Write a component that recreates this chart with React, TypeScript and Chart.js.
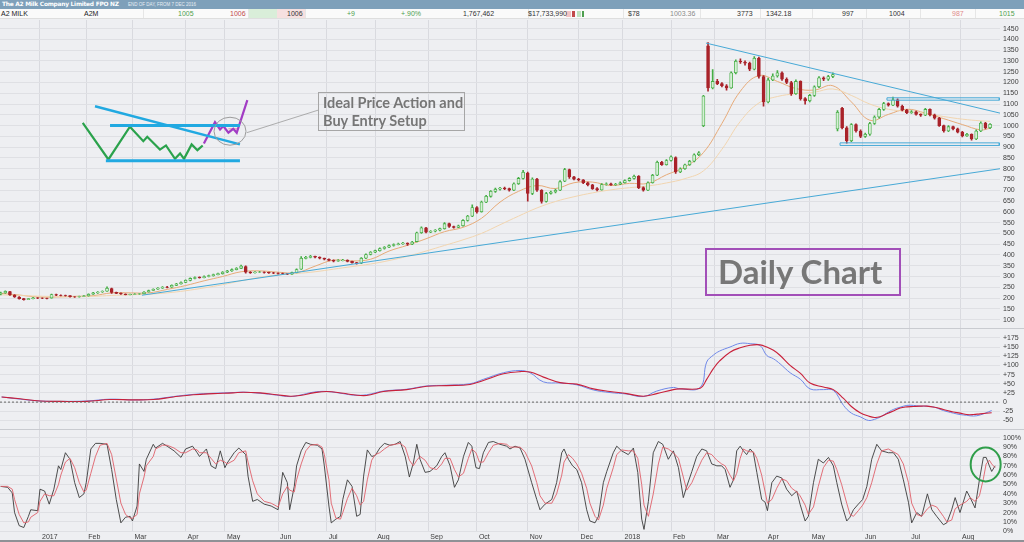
import React, { useEffect, useRef } from "react";
import { Chart, registerables } from "chart.js";

Chart.register(...registerables);

// ---------------- DATA ----------------
// x axis = trading-day number counted from 7 Dec 2016
const monthStartDays = [17, 37, 57, 80, 97, 120, 141, 162, 185, 206, 228, 250, 269, 290, 309, 331, 350, 373, 393, 415];
const monthLabels = ["2017", "Feb", "Mar", "Apr", "May", "Jun", "Jul", "Aug", "Sep", "Oct", "Nov", "Dec", "2018", "Feb", "Mar", "Apr", "May", "Jun", "Jul", "Aug"];

const priceTicks = [100, 150, 200, 250, 300, 350, 400, 450, 500, 550, 600, 650, 700, 750, 800, 850, 900, 950, 1000, 1050, 1100, 1150, 1200, 1250, 1300, 1350, 1400, 1450];
const macdTicks = [-50, -25, 0, 25, 50, 75, 100, 125, 150, 175];
const stochTicks = [0, 10, 20, 30, 40, 50, 60, 70, 80, 90, 100];

// candles, one every second trading day
const opens = [
  218, 224, 230, 214, 205, 197, 193, 197, 201, 200,
  199, 200, 216, 213, 212, 211, 206, 205, 207, 210,
  218, 224, 228, 232, 244, 226, 222, 219, 216, 217,
  219, 220, 228, 235, 241, 246, 251, 250, 259, 266,
  272, 282, 291, 297, 294, 300, 304, 309, 313, 320,
  326, 332, 338, 346, 320, 318, 320, 321, 319, 317,
  316, 314, 313, 311, 318, 334, 384, 389, 393, 390,
  385, 380, 375, 371, 374, 376, 370, 364, 362, 385,
  402, 413, 420, 430, 436, 444, 448, 452, 455, 450,
  462, 503, 526, 506, 510, 515, 522, 545, 532, 528,
  535, 560, 580, 620, 600, 645, 672, 695, 705, 710,
  708, 700, 730, 755, 780, 685, 752, 700, 648, 685,
  692, 700, 742, 796, 762, 752, 748, 735, 725, 708,
  702, 727, 730, 726, 728, 735, 745, 755, 765, 712,
  700, 735, 770, 830, 819, 838, 852, 785, 800, 818,
  835, 865, 1000, 1370, 1175, 1205, 1195, 1185, 1175, 1245,
  1298, 1295, 1290, 1262, 1312, 1228, 1110, 1212, 1230, 1245,
  1215, 1200, 1148, 1205, 1125, 1115, 1140, 1180, 1222, 1215,
  1228, 985, 1080, 990, 930, 1005, 975, 950, 960, 1010,
  1040, 1075, 1102, 1095, 1120, 1090, 1072, 1060, 1064, 1052,
  1048, 1075, 1050, 1035, 1000, 975, 995, 985, 970, 952,
  960, 938, 975, 1012, 990,
];
const highs = [
  228, 234, 231, 216, 207, 199, 199, 203, 202, 201,
  200, 219, 218, 215, 214, 212, 207, 209, 212, 220,
  226, 230, 233, 252, 246, 228, 224, 220, 219, 221,
  222, 230, 237, 243, 248, 253, 254, 261, 268, 275,
  285, 294, 298, 299, 303, 306, 311, 316, 323, 329,
  335, 341, 353, 349, 323, 323, 324, 322, 320, 319,
  317, 316, 314, 321, 336, 392, 394, 398, 395, 391,
  386, 382, 377, 378, 380, 377, 371, 366, 388, 405,
  416, 423, 433, 439, 447, 451, 455, 458, 456, 463,
  506, 530, 528, 513, 518, 525, 550, 548, 534, 538,
  564, 584, 632, 624, 650, 676, 699, 710, 714, 715,
  710, 734, 760, 792, 784, 758, 755, 703, 690, 696,
  705, 745, 802, 798, 765, 755, 750, 738, 728, 712,
  731, 734, 733, 732, 739, 749, 759, 770, 768, 716,
  739, 774, 835, 834, 842, 860, 855, 804, 822, 839,
  869, 880, 1140, 1385, 1260, 1215, 1200, 1190, 1250, 1305,
  1310, 1300, 1295, 1320, 1318, 1232, 1220, 1240, 1255, 1250,
  1222, 1205, 1212, 1208, 1130, 1145, 1185, 1228, 1226, 1233,
  1245, 1070, 1085, 995, 1010, 1008, 980, 965, 1015, 1045,
  1080, 1108, 1106, 1132, 1124, 1095, 1076, 1070, 1067, 1055,
  1080, 1078, 1053, 1038, 1003, 1000, 998, 988, 973, 964,
  962, 980, 1018, 1015, 1010,
];
const lows = [
  215, 222, 212, 203, 195, 190, 192, 196, 197, 197,
  196, 199, 211, 210, 209, 204, 203, 204, 206, 209,
  217, 222, 226, 231, 222, 220, 217, 214, 214, 216,
  217, 219, 227, 234, 240, 245, 247, 249, 258, 264,
  271, 280, 289, 292, 293, 298, 302, 307, 311, 318,
  324, 330, 336, 316, 314, 316, 318, 316, 314, 313,
  311, 310, 308, 310, 317, 333, 381, 386, 386, 382,
  377, 372, 368, 370, 372, 368, 362, 357, 360, 383,
  400, 411, 418, 427, 434, 441, 446, 449, 444, 448,
  460, 500, 502, 503, 507, 512, 520, 528, 524, 526,
  533, 557, 578, 594, 598, 642, 668, 690, 700, 703,
  696, 698, 727, 752, 650, 680, 695, 640, 645, 682,
  688, 698, 740, 755, 748, 744, 731, 720, 704, 697,
  700, 724, 722, 723, 726, 733, 742, 752, 708, 696,
  698, 733, 768, 815, 816, 835, 778, 782, 797, 815,
  832, 861, 995, 1160, 1170, 1190, 1180, 1165, 1172, 1240,
  1288, 1280, 1255, 1258, 1220, 1090, 1105, 1208, 1225, 1210,
  1195, 1140, 1145, 1118, 1100, 1110, 1136, 1176, 1208, 1210,
  1222, 975, 985, 918, 926, 970, 944, 945, 955, 1005,
  1035, 1070, 1090, 1092, 1086, 1068, 1055, 1057, 1048, 1043,
  1046, 1045, 1030, 996, 970, 972, 980, 966, 948, 950,
  932, 935, 972, 985, 986,
];
const closes = [
  224, 231, 215, 205, 197, 193, 197, 201, 200, 199,
  198, 216, 213, 212, 211, 206, 205, 207, 210, 218,
  224, 228, 231, 245, 226, 222, 219, 216, 217, 219,
  220, 228, 235, 241, 246, 251, 249, 259, 266, 272,
  282, 291, 295, 294, 300, 304, 309, 313, 320, 326,
  332, 338, 348, 320, 318, 320, 321, 319, 317, 316,
  314, 313, 311, 318, 332, 384, 389, 393, 390, 385,
  380, 375, 371, 374, 376, 370, 364, 360, 385, 402,
  413, 420, 430, 436, 444, 448, 452, 455, 450, 460,
  503, 526, 506, 510, 515, 522, 545, 532, 528, 535,
  560, 580, 620, 600, 645, 672, 695, 705, 710, 708,
  700, 730, 755, 784, 685, 752, 700, 648, 685, 692,
  700, 740, 796, 762, 752, 748, 735, 725, 708, 702,
  727, 730, 726, 728, 735, 745, 755, 765, 712, 700,
  735, 770, 830, 819, 838, 855, 785, 800, 818, 835,
  865, 874, 1137, 1175, 1205, 1195, 1185, 1175, 1245, 1298,
  1295, 1290, 1262, 1312, 1228, 1110, 1212, 1230, 1245, 1215,
  1200, 1148, 1205, 1125, 1115, 1140, 1180, 1222, 1215, 1228,
  1237, 1062, 990, 930, 1005, 975, 950, 960, 1010, 1040,
  1075, 1102, 1095, 1120, 1090, 1072, 1060, 1064, 1052, 1048,
  1075, 1050, 1035, 1000, 975, 995, 985, 970, 952, 960,
  938, 975, 1012, 990, 1006,
];

// moving averages
const maDays = [0, 8, 16, 24, 32, 40, 48, 56, 64, 72, 80, 88, 96, 104, 112, 120, 128, 136, 144, 152, 160, 168, 176, 184, 192, 200, 208, 216, 224, 232, 240, 248, 256, 264, 272, 280, 288, 296, 304, 312, 320, 328, 336, 344, 352, 360, 368, 376, 384, 392, 400, 408, 416, 424, 428];
const fastMA = [222, 214, 205, 205, 208, 211, 224, 224, 224, 240, 258, 280, 300, 322, 326, 320, 318, 348, 376, 372, 380, 418, 445, 475, 508, 528, 570, 645, 695, 722, 708, 735, 738, 722, 732, 732, 772, 808, 875, 1010, 1160, 1232, 1205, 1172, 1165, 1185, 1110, 1025, 1052, 1076, 1058, 1032, 1005, 980, 988];
const slowMA = [215, 212, 209, 207, 206, 208, 212, 215, 218, 224, 234, 247, 262, 280, 296, 308, 314, 322, 334, 346, 358, 374, 394, 418, 444, 470, 500, 540, 580, 618, 648, 670, 688, 702, 712, 720, 734, 754, 790, 890, 1020, 1105, 1135, 1148, 1155, 1170, 1140, 1100, 1076, 1066, 1056, 1042, 1030, 1022, 1020];

// drawn trend lines and zones on the price panel
const downTrendDays = [305.1, 432.3];
const downTrendPrices = [1383, 1058];
const upTrendDays = [61.1, 432.3];
const upTrendPrices = [213, 800];
const resistanceZone = { from: 383.4, to: 432, top: 1129, bottom: 1118 };
const supportZone = { from: 363.1, to: 432, top: 920, bottom: 908 };

// the hand-drawn "ideal price action" sketch
const sketchTrendDays = [40.8, 103.5];
const sketchTrendPrices = [1090, 913];
const sketchTopDays = [47.3, 103.5];
const sketchTopPrice = 1001;
const sketchBottomDays = [45.5, 103.5];
const sketchBottomPrice = 837;
const sketchGreenDays = [35.5, 46.6, 55.9, 61.7, 63.4, 68.9, 71.5, 75.4, 77.6, 79.3, 82.6, 85.1, 87.4];
const sketchGreenPrices = [1013, 843, 995, 928, 948, 889, 908, 846, 871, 846, 913, 886, 908];
const sketchPurpleDays = [87.9, 92.7, 94.9, 96.3, 98.5, 100.6, 102.1, 103.5, 106.7];
const sketchPurplePrices = [917, 1016, 982, 998, 967, 985, 967, 1013, 1118];
const sketchMarkDays = [98.5, 102.8];
const sketchMarkPrice = 985;
const sketchRing = { day: 99.2, price: 974 };
const calloutDays = [106.4, 137.4];
const calloutPrices = [967, 1072];

// MACD panel
const macdDays = [
  0.4, 8.4, 17, 25.7, 37.2, 47.3, 57.4, 66, 74.7, 83.3, 92, 100.6, 105, 112.2, 119.4, 125.2, 129.5, 135.2, 141, 148.2,
  152.6, 158.3, 165.5, 175.6, 184.3, 192.9, 203, 208.8, 217.5, 224.7, 229, 234.8, 242, 249.2, 256.4, 263.6, 270.8, 278, 283.8, 291,
  293.9, 302.6, 305.4, 308.3, 311, 315.5, 319.9, 324.2, 328.5, 331.4, 334.3, 337.2, 341.5, 346, 350.1, 355.9, 360.2, 364.6, 368,
  371.8, 375.4, 378, 380.4, 383.3, 386.2, 389.1, 392, 394.8, 397.7, 400.6, 404, 407.8, 412.1, 415, 417.9, 420.8, 423.7, 428.7,
];
const macdLine = [
  14, 8, 3, 2, 3, 8, 6, 8, 15, 21, 24, 26, 27, 24, 19, 15, 19, 27, 29, 23,
  19, 20, 30, 35, 44, 46, 50, 62, 80, 86, 80, 55, 52, 47, 33, 26, 22, 15, 30, 40,
  36, 40, 109, 128, 139, 150, 160, 159, 154, 127, 118, 104, 80, 62, 36, 34, 32, -9, -30,
  -40, -50, -47, -41, -30, -20, -14, -9, -9, -11, -11, -14, -23, -30, -34, -36, -38, -35, -23,
];
const signalLine = [
  14, 9, 3, 2, 2, 7, 6, 7, 14, 20, 23, 25, 27, 25, 20, 16, 18, 25, 29, 24,
  20, 18, 29, 34, 43, 45, 48, 59, 77, 83, 82, 68, 53, 49, 36, 29, 23, 16, 23, 34,
  36, 38, 62, 91, 112, 136, 148, 155, 156, 150, 141, 127, 100, 78, 52, 41, 34, 10, -12,
  -29, -38, -42, -40, -32, -24, -16, -13, -12, -11, -11, -14, -20, -27, -30, -34, -34, -32, -29,
];

// Stochastic panel
const stochDays = [
  0, 3, 5, 6, 8, 10, 12, 13, 16, 17, 19, 21, 23, 25, 26, 28, 30, 32, 34, 36,
  37, 39, 41, 43, 46, 48, 50, 52, 54, 56, 57, 59, 60, 62, 63, 66, 67, 70, 72, 75,
  78, 80, 83, 85, 86, 89, 91, 93, 95, 97, 98, 101, 103, 106, 107, 109, 111, 114, 117, 120,
  122, 124, 125, 127, 128, 130, 132, 134, 137, 139, 140, 142, 143, 145,
  147, 148, 150, 152, 154, 155.5, 157, 158.6, 160.5, 162, 164, 166, 168.4, 170.6, 172.8, 175, 176.8, 178.5, 180, 181.4,
  183.6, 185.7, 188.6, 190.8, 192.2, 194.4, 196.3, 198, 200.2, 202.3, 203.8, 205.6, 207.1, 208.8, 211, 213.1, 216, 218.9, 220.3, 222.5,
  224.7, 226.8, 229.7, 231.9, 233.3, 235.5, 238.4, 240.5, 242.7, 243.7, 245.6, 247.4, 249.2, 251.3, 253.5, 254.9, 257.1, 258.6, 260.7, 262.2,
  265, 266.5, 268.6, 271.5, 273.7, 275.6, 277.3, 278.3, 280.2, 282.3, 284.5, 286.4, 288.8, 291, 293.2, 295.3,
  296.8, 299, 301.1, 303.3, 305.4, 307.6, 309.8, 311.9, 313.4, 315.5, 317, 318.4, 319.9, 321.3, 322.7, 324.2, 325.6, 327.1, 329.2, 330.7,
  331.7, 333.6, 335.7, 337.9, 340, 342.2, 344.4, 345.8, 348, 349.4, 351.6, 353.7, 355.9, 358.1, 360.2, 361.7, 363.8, 366, 367.4, 368.9,
  371, 372.9, 374.7, 376.8, 379, 381.1, 384, 386.2, 388.3, 390.5, 392.7, 394.1, 396.3, 398.4, 400.9, 402.8, 404.9, 407.8, 409.3, 411.4,
  412.9, 415, 417.9, 419.4, 421.5, 423.4, 425.1, 426.3, 427.7, 428.7, 430.2,
];
const stochK = [
  48, 47, 41, 20, 6, 4, 16, 23, 22, 45, 43, 29, 45, 70, 66, 84, 77, 52, 36, 40,
  52, 88, 94, 94, 93, 66, 34, 9, 15, 16, 11, 27, 72, 64, 77, 93, 89, 94, 91, 86,
  79, 88, 91, 84, 80, 88, 70, 67, 86, 68, 73, 84, 89, 82, 59, 32, 34, 29, 27, 23,
  63, 52, 23, 48, 70, 86, 95, 93, 92, 88, 70, 27, 9, 13,
  16, 34, 55, 48, 16, 18, 59, 87, 80, 81, 89, 94, 92, 93, 96, 80, 58, 73, 93, 77,
  63, 64, 70, 80, 84, 70, 47, 55, 80, 95, 91, 68, 67, 84, 95, 96, 93, 91, 88, 91,
  89, 77, 52, 34, 23, 29, 34, 52, 84, 88, 77, 70, 66, 52, 23, 11, 9, 16, 52, 64,
  84, 91, 86, 82, 89, 63, 13, 2, 32, 84, 96, 93, 77, 86, 68, 36,
  48, 64, 80, 88, 86, 72, 70, 70, 66, 47, 55, 86, 91, 86, 82, 88, 84, 63, 34, 31,
  22, 52, 59, 57, 45, 38, 43, 29, 11, 16, 52, 77, 73, 79, 70, 52, 29, 11, 15, 23,
  29, 34, 48, 77, 93, 86, 84, 84, 77, 55, 31, 9, 20, 16, 40, 23, 16, 7, 9, 23,
  36, 20, 43, 36, 25, 55, 79, 79, 70, 64, 70,
];
const stochD = [
  48, 48, 45, 34, 18, 9, 10, 15, 20, 32, 40, 38, 38, 50, 60, 74, 78, 68, 52, 42,
  44, 62, 80, 92, 94, 82, 56, 30, 18, 14, 14, 18, 40, 58, 70, 80, 88, 92, 92, 89,
  84, 84, 88, 87, 84, 84, 78, 72, 76, 74, 72, 76, 84, 86, 74, 54, 40, 32, 30, 26,
  40, 48, 44, 42, 55, 72, 86, 92, 93, 90, 82, 55, 30, 14,
  13, 20, 35, 46, 38, 28, 32, 55, 76, 82, 84, 88, 92, 93, 94, 90, 76, 70, 76, 80,
  76, 68, 66, 72, 78, 78, 66, 58, 62, 78, 88, 84, 74, 74, 84, 92, 94, 93, 90, 90,
  90, 85, 70, 52, 38, 30, 30, 40, 60, 74, 82, 78, 72, 62, 46, 30, 16, 12, 28, 46,
  68, 82, 87, 86, 86, 78, 50, 28, 16, 40, 72, 90, 88, 84, 78, 58,
  44, 52, 64, 76, 84, 82, 76, 72, 70, 60, 54, 62, 78, 88, 86, 85, 85, 78, 60, 42,
  30, 34, 46, 56, 54, 46, 42, 38, 28, 18, 26, 48, 68, 76, 75, 66, 50, 30, 18, 16,
  22, 28, 36, 52, 72, 86, 88, 85, 82, 72, 52, 30, 18, 16, 24, 28, 26, 16, 10, 12,
  24, 28, 32, 36, 32, 38, 56, 72, 76, 72, 68,
];
const stochRing = { day: 426.1, value: 71.5 };

// ---------------- CHART ----------------
const AXIS_FONT = { family: "'Liberation Sans Narrow','Liberation Sans',Arial,sans-serif", size: 7 };
const X_FONT = { family: "'Liberation Sans Narrow','Liberation Sans',Arial,sans-serif", size: 7, lineHeight: 1.1 };
const UP_LINE = "#45ad45";
const UP_FILL = "#d6efd6";
const DOWN = "#a9232a";

const candleDays = opens.map((_, i) => i * 2);

function pts(xs: number[], ys: number[]) {
  return xs.map((x, i) => ({ x, y: ys[i] }));
}

function line(xs: number[], ys: number[], color: string, width: number, axis: string, extra: any = {}) {
  return {
    type: "line",
    data: pts(xs, ys),
    borderColor: color,
    backgroundColor: color,
    borderWidth: width,
    pointRadius: 0,
    fill: false,
    tension: 0,
    yAxisID: axis,
    ...extra,
  };
}

function box(z: { from: number; to: number; top: number; bottom: number }) {
  return line([z.from, z.to, z.to, z.from, z.from], [z.top, z.top, z.bottom, z.bottom, z.top], "#47a9d6", 1, "y");
}

const ringPlugin = {
  id: "rings",
  afterDatasetsDraw(chart: any) {
    const { ctx, scales } = chart;
    const ring = (x: number, y: number, rx: number, ry: number, color: string, w: number) => {
      ctx.save();
      ctx.beginPath();
      ctx.ellipse(x, y, rx, ry, 0, 0, Math.PI * 2);
      ctx.strokeStyle = color;
      ctx.lineWidth = w;
      ctx.stroke();
      ctx.restore();
    };
    ring(scales.x.getPixelForValue(sketchRing.day), scales.y.getPixelForValue(sketchRing.price), 16, 14, "#9c9c9c", 1);
    ring(scales.x.getPixelForValue(stochRing.day), scales.yStoch.getPixelForValue(stochRing.value), 15, 17, "#2f9e4a", 2);
  },
  beforeDatasetsDraw(chart: any) {
    const { ctx, chartArea, scales } = chart;
    ctx.save();
    ctx.strokeStyle = "#c9cbd0";
    ctx.lineWidth = 1;
    [scales.yMacd.top, scales.yStoch.top].forEach((t: number) => {
      ctx.beginPath();
      ctx.moveTo(chartArea.left, Math.round(t) + 0.5);
      ctx.lineTo(chartArea.right + 24, Math.round(t) + 0.5);
      ctx.stroke();
    });
    ctx.restore();
  },
};

function noPad(s: any) {
  s.paddingTop = 0;
  s.paddingBottom = 0;
  s.paddingLeft = 0;
  s.paddingRight = 0;
}

function yScale(weight: number, min: number, max: number, ticks: number[], fmt: (v: number) => string) {
  return {
    type: "linear",
    position: "right",
    stack: "panels",
    stackWeight: weight,
    min,
    max,
    offset: false,
    border: { display: false },
    grid: { color: "#dfe0e4", drawTicks: false, lineWidth: 1 },
    ticks: { font: AXIS_FONT, color: "#3c3c3c", padding: 3, autoSkip: false, callback: (v: any) => fmt(Number(v)) },
    afterBuildTicks: (s: any) => {
      s.ticks = ticks.map((v) => ({ value: v }));
    },
    afterFit: (s: any) => {
      s.width = 24;
      noPad(s);
    },
  };
}

function makeConfig(): any {
  const upFlags = candleDays.map((_, i) => closes[i] >= opens[i]);
  return {
    type: "bar",
    data: {
      datasets: [
        {
          type: "bar",
          data: candleDays.map((d, i) => ({ x: d, y: [lows[i], highs[i]] })),
          backgroundColor: upFlags.map((u) => (u ? UP_LINE : DOWN)),
          barThickness: 1,
          grouped: false,
          yAxisID: "y",
          order: 5,
        },
        {
          type: "bar",
          data: candleDays.map((d, i) => ({ x: d, y: [opens[i], closes[i]] })),
          backgroundColor: upFlags.map((u) => (u ? UP_FILL : DOWN)),
          borderColor: upFlags.map((u) => (u ? UP_LINE : DOWN)),
          borderWidth: 0.8,
          borderSkipped: false,
          barThickness: 3,
          grouped: false,
          yAxisID: "y",
          order: 4,
        },
        line(maDays, slowMA, "#f1d5b0", 1, "y", { tension: 0.4, order: 6 }),
        line(maDays, fastMA, "#e6aa78", 1, "y", { tension: 0.4, order: 6 }),
        line(downTrendDays, downTrendPrices, "#47a9d6", 1, "y"),
        line(upTrendDays, upTrendPrices, "#47a9d6", 1, "y"),
        box(resistanceZone),
        box(supportZone),
        line(sketchTopDays, [sketchTopPrice, sketchTopPrice], "#21a9e1", 3, "y"),
        line(sketchBottomDays, [sketchBottomPrice, sketchBottomPrice], "#21a9e1", 3, "y"),
        line(sketchTrendDays, sketchTrendPrices, "#21a9e1", 2.5, "y"),
        line(sketchGreenDays, sketchGreenPrices, "#2ba24c", 2.2, "y"),
        line(sketchPurpleDays, sketchPurplePrices, "#a23cc4", 2.2, "y"),
        line(sketchMarkDays, [sketchMarkPrice, sketchMarkPrice], "#e7a9bd", 1.5, "y"),
        line(calloutDays, calloutPrices, "#9a9a9a", 0.8, "y"),
        line([-0.3, 432.3], [0, 0], "#666666", 1, "yMacd", { borderDash: [2, 2] }),
        line(macdDays, signalLine, "#c8203a", 1.1, "yMacd", { tension: 0.4 }),
        line(macdDays, macdLine, "#6f88e8", 1, "yMacd", { tension: 0.4 }),
        line(stochDays, stochD, "#e0606a", 0.9, "yStoch"),
        line(stochDays, stochK, "#3a3a3a", 0.9, "yStoch"),
      ],
    },
    options: {
      animation: false,
      responsive: false,
      devicePixelRatio: 1,
      layout: { padding: { top: 1, left: 0, right: 0, bottom: 0 } },
      plugins: { legend: { display: false }, tooltip: { enabled: false } },
      scales: {
        x: {
          type: "linear",
          position: "bottom",
          min: -0.3,
          max: 432.3,
          offset: false,
          border: { display: false },
          grid: { color: "#d9dadf", drawTicks: false, offset: false },
          ticks: {
            font: X_FONT,
            color: "#3c3c3c",
            padding: 1,
            align: "start",
            labelOffset: 2,
            autoSkip: false,
            maxRotation: 0,
            callback: (v: any) => {
              const k = monthStartDays.indexOf(Number(v));
              return k >= 0 ? monthLabels[k] : "";
            },
          },
          afterBuildTicks: (s: any) => {
            s.ticks = monthStartDays.map((v) => ({ value: v }));
          },
          afterFit: (s: any) => noPad(s),
        },
        y: yScale(308, 63, 1490, priceTicks, (v) => String(v)),
        yMacd: yScale(102, -74.5, 203, macdTicks, (v) => (v > 0 ? "+" + v : String(v))),
        yStoch: yScale(103, -1.1, 108.9, stochTicks, (v) => v + "%"),
      },
    },
    plugins: [ringPlugin],
  };
}

const HEADER_FONT = "'Liberation Sans Narrow','Liberation Sans',Arial,sans-serif";

const quoteCells: { text: string; left: number; color: string }[] = [
  { text: "A2 MILK", left: 1, color: "#222" },
  { text: "A2M", left: 84, color: "#222" },
  { text: "1005", left: 178, color: "#4f9f4f" },
  { text: "1006", left: 230, color: "#c24a4a" },
  { text: "1006", left: 287, color: "#333" },
  { text: "+9", left: 347, color: "#4f9f4f" },
  { text: "+.90%", left: 401, color: "#4f9f4f" },
  { text: "1,767,462", left: 463, color: "#333" },
  { text: "$17,733,990", left: 528, color: "#333" },
  { text: "$78", left: 628, color: "#333" },
  { text: "1003.36", left: 670, color: "#8a8a8a" },
  { text: "3773", left: 737, color: "#333" },
  { text: "1342.18", left: 766, color: "#333" },
  { text: "997", left: 842, color: "#333" },
  { text: "1004", left: 889, color: "#333" },
  { text: "987", left: 952, color: "#e08a8a" },
  { text: "1015", left: 999, color: "#4f9f4f" },
];

export default function App() {
  const ref = useRef<HTMLCanvasElement>(null);
  useEffect(() => {
    const chart = new Chart(ref.current as HTMLCanvasElement, makeConfig());
    return () => chart.destroy();
  }, []);

  return (
    <div
      style={{
        position: "fixed",
        left: 0,
        top: 0,
        width: 1024,
        height: 542,
        overflow: "hidden",
        background: "#eeeff2",
        fontFamily: HEADER_FONT,
      }}
    >
      <div style={{ position: "absolute", left: 0, top: 0, width: 1024, height: 9, background: "#7ea0ba" }}>
        <span style={{ position: "absolute", left: 2, top: 0, fontSize: 5.9, lineHeight: "9px", fontWeight: 700, color: "#fff", fontFamily: "Verdana, 'DejaVu Sans', sans-serif", letterSpacing: -0.25, whiteSpace: "nowrap" }}>
          The A2 Milk Company Limited FPO NZ
        </span>
        <span style={{ position: "absolute", left: 128, top: 0, fontSize: 4.5, lineHeight: "9px", color: "#e8eef4", whiteSpace: "nowrap" }}>
          END OF DAY, FROM 7 DEC 2016
        </span>
      </div>
      <div style={{ position: "absolute", left: 0, top: 9, width: 1024, height: 10, background: "#fafafa", borderBottom: "1px solid #dedede", boxSizing: "border-box" }}>
        <div style={{ position: "absolute", left: 248, top: 0, width: 29, height: 9, background: "#d9eed9" }} />
        <div style={{ position: "absolute", left: 277, top: 0, width: 28, height: 9, background: "#f6e0e0" }} />
        <div style={{ position: "absolute", left: 566, top: 2, width: 5, height: 6, background: "#f2c4c4" }} />
        <div style={{ position: "absolute", left: 572, top: 2, width: 3, height: 6, background: "#c24a4a" }} />
        <div style={{ position: "absolute", left: 577, top: 2, width: 4, height: 6, background: "#bfe3bf" }} />
        <div style={{ position: "absolute", left: 582, top: 2, width: 2, height: 6, background: "#4f9f4f" }} />
        {[143, 248, 305, 528, 623, 700, 760, 812, 866, 920, 975].map((x) => (
          <div key={x} style={{ position: "absolute", left: x, top: 0, width: 1, height: 9, background: "#e6e6e6" }} />
        ))}
        {quoteCells.map((c, i) => (
          <span key={i} style={{ position: "absolute", left: c.left, top: 0, fontSize: 7, lineHeight: "9px", color: c.color, whiteSpace: "nowrap" }}>
            {c.text}
          </span>
        ))}
      </div>

      <canvas ref={ref} width={1024} height={523} style={{ position: "absolute", left: 0, top: 19, width: 1024, height: 523 }} />

      <div style={{ position: "absolute", left: 0, top: 540, width: 1024, height: 2, background: "#8f9196" }} />

      <div
        style={{
          position: "absolute",
          left: 318,
          top: 92,
          width: 147,
          height: 39,
          border: "1px solid #a6a6a6",
          boxSizing: "border-box",
          fontFamily: "Lato, 'Open Sans', sans-serif",
          fontWeight: 700,
          fontSize: 14.5,
          lineHeight: "18px",
          color: "#767676",
          paddingLeft: 4,
          paddingTop: 1,
          whiteSpace: "nowrap",
        }}
      >
        <div>Ideal Price Action and</div>
        <div>Buy Entry Setup</div>
      </div>

      <div
        style={{
          position: "absolute",
          left: 705,
          top: 248,
          width: 196,
          height: 48,
          border: "2px solid #a24fb8",
          boxSizing: "border-box",
          fontFamily: "Lato, 'Open Sans', sans-serif",
          fontWeight: 700,
          fontSize: 33,
          lineHeight: "42px",
          color: "#777777",
          paddingLeft: 11,
          whiteSpace: "nowrap",
        }}
      >
        Daily Chart
      </div>
    </div>
  );
}
